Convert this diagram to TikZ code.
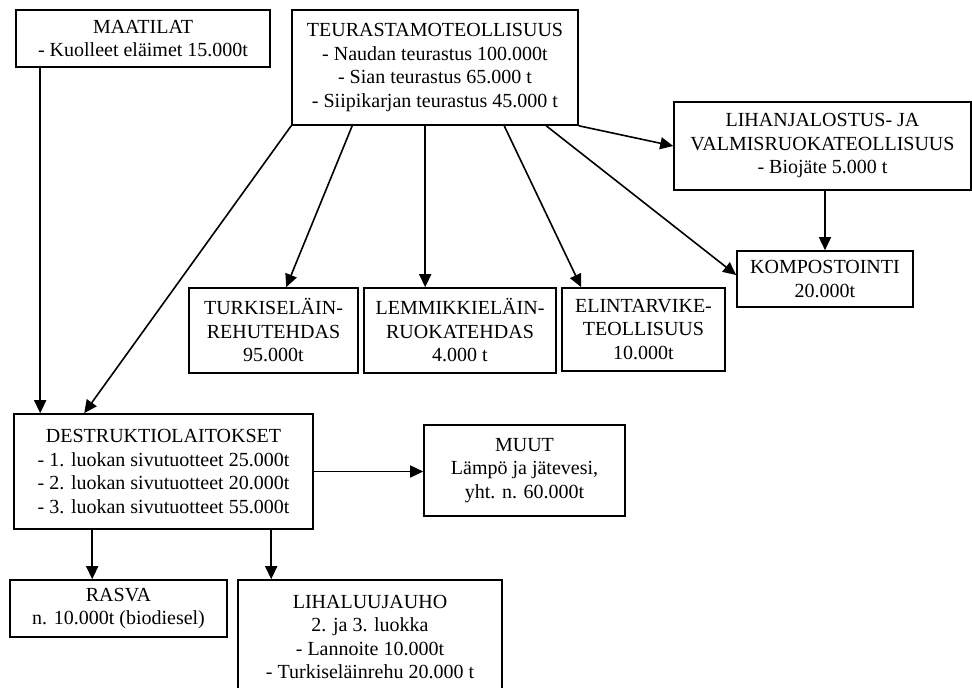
\documentclass[tikz,border=0pt]{standalone}
\usepackage{fontspec}
\setmainfont{Liberation Serif}
\usetikzlibrary{arrows.meta}

\begin{document}
\begin{tikzpicture}[x=1pt,y=-1pt,font=\fontsize{20}{23.5}\selectfont,
  box/.style={draw,line width=1.6pt,align=center,inner sep=2pt},
  flow/.style={-{Triangle[length=13pt,width=12pt]},line width=1.6pt}]
\useasboundingbox (0,0) rectangle (972,688);
\node[box,minimum width=254pt,minimum height=57pt] (maatilat) at (143,38.5) {MAATILAT\\- Kuolleet eläimet 15.000t};
\node[box,minimum width=286pt,minimum height=115pt] (teur) at (435,67.5) {TEURASTAMOTEOLLISUUS\\- Naudan teurastus 100.000t\\- Sian teurastus 65.000 t\\- Siipikarjan teurastus 45.000 t};
\node[box,minimum width=297pt,minimum height=88pt] (lihanj) at (822.5,146) {LIHANJALOSTUS- JA\\VALMISRUOKATEOLLISUUS\\- Biojäte 5.000 t};
\node[box,minimum width=176pt,minimum height=56pt] (kompost) at (825,279) {KOMPOSTOINTI\\20.000t};
\node[box,minimum width=169pt,minimum height=85pt] (turkis) at (273.5,330.5) {TURKISELÄIN-\\REHUTEHDAS\\95.000t};
\node[box,minimum width=192pt,minimum height=85pt] (lemmikki) at (460,330.5) {LEMMIKKIELÄIN-\\RUOKATEHDAS\\4.000 t};
\node[box,minimum width=163pt,minimum height=83pt] (elint) at (643.5,329.5) {ELINTARVIKE-\\TEOLLISUUS\\10.000t};
\node[box,minimum width=299pt,minimum height=115pt] (destr) at (163.5,471.5) {DESTRUKTIOLAITOKSET\\- 1. luokan sivutuotteet 25.000t\\- 2. luokan sivutuotteet 20.000t\\- 3. luokan sivutuotteet 55.000t};
\node[box,minimum width=201pt,minimum height=91pt] (muut) at (524.5,470.5) {MUUT\\Lämpö ja jätevesi,\\yht. n. 60.000t};
\node[box,minimum width=217pt,minimum height=57pt] (rasva) at (118.5,608.5) {RASVA\\n. 10.000t (biodiesel)};
\node[box,minimum width=264pt,minimum height=114pt] (lihaluu) at (370,637) {LIHALUUJAUHO\\2. ja 3. luokka\\- Lannoite 10.000t\\- Turkiseläinrehu 20.000 t};
\draw[flow] ([xshift=25pt]maatilat.south west) -- ([xshift=27pt]destr.north west);
\draw[flow] (teur.south west) -- ([xshift=71pt]destr.north west);
\draw[flow] ([xshift=61pt]teur.south west) -- ([xshift=98pt]turkis.north west);
\draw[flow] ([xshift=134pt]teur.south west) -- ([xshift=62pt]lemmikki.north west);
\draw[flow] ([xshift=213pt]teur.south west) -- ([xshift=20pt]elint.north west);
\draw[flow] ([xshift=255pt]teur.south west) -- ([yshift=4pt]kompost.west);
\draw[flow] (teur.south east) -- (lihanj.west);
\draw[flow] (lihanj.south -| kompost.north) -- (kompost.north);
\draw[flow] (destr.east) -- (destr.east -| muut.west);
\draw[flow] ([xshift=79pt]destr.south west) -- ([xshift=83pt]rasva.north west);
\draw[flow] ([xshift=258pt]destr.south west) -- ([xshift=34pt]lihaluu.north west);
\end{tikzpicture}
\end{document}
